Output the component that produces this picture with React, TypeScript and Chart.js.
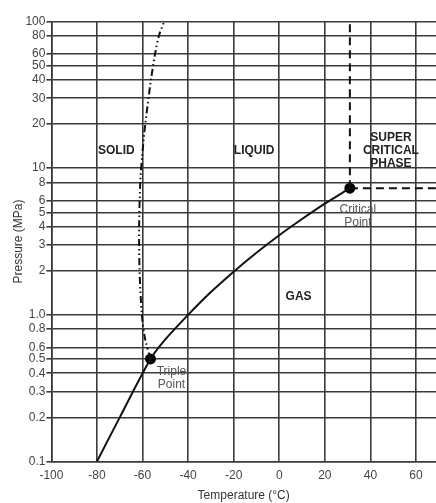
import React, { useEffect, useRef } from 'react';
import { Chart, registerables } from 'chart.js';

Chart.register(...registerables);

// ---- data ----
const xTicks = [-100, -80, -60, -40, -20, 0, 20, 40, 60];
const yTickValues = [0.1, 0.2, 0.3, 0.4, 0.5, 0.6, 0.8, 1, 2, 3, 4, 5, 6, 8, 10, 20, 30, 40, 50, 60, 80, 100];
const yTickLabels = ['0.1', '0.2', '0.3', '0.4', '0.5', '0.6', '0.8', '1.0', '2', '3', '4', '5', '6', '8', '10', '20', '30', '40', '50', '60', '80', '100'];

// sublimation + vaporization curve (solid)
const vaporT = [-80, -70, -56.5, -50, -40, -30, -20, -10, 0, 10, 20, 31];
const vaporP = [0.1, 0.2, 0.5, 0.68, 1.0, 1.43, 1.97, 2.65, 3.49, 4.5, 5.73, 7.3];

// melting curve (dash-dot)
const meltT = [-56.5, -59, -60.3, -61.3, -61.5, -61, -60.2, -58.8, -56.3, -54.5, -52.8, -50.5];
const meltP = [0.5, 0.7, 1.0, 2, 4, 8, 12, 20, 40, 60, 80, 100];

const tripleT = -56.5;
const tripleP = 0.5;
const criticalT = 31;
const criticalP = 7.3;

const criticalVertP = [criticalP, 100];
const criticalHorizT = [criticalT, 68.8];

const regionLabels = [
  { lines: ['SOLID'], t: -71.5, p: 13.2 },
  { lines: ['LIQUID'], t: -11, p: 13.2 },
  { lines: ['SUPER', 'CRITICAL', 'PHASE'], t: 49, p: 13.2 },
  { lines: ['GAS'], t: 8.5, p: 1.33 },
];

const pointLabels = [
  { lines: ['Triple', 'Point'], t: tripleT, p: tripleP, dx: 21, dy: 13 },
  { lines: ['Critical', 'Point'], t: criticalT, p: criticalP, dx: 8, dy: 21 },
];

const FONT = "'Liberation Sans', Arial, Helvetica, sans-serif";
const GRID = '#3a3a3a';

const labelPlugin = {
  id: 'phaseLabels',
  afterDatasetsDraw(chart: any) {
    const { ctx, scales } = chart;
    const xs = scales.x;
    const ys = scales.y;
    ctx.save();
    ctx.textAlign = 'center';
    ctx.textBaseline = 'middle';
    ctx.fillStyle = '#222';
    ctx.font = `bold 12px ${FONT}`;
    regionLabels.forEach((l) => {
      const cx = xs.getPixelForValue(l.t);
      const cy = ys.getPixelForValue(l.p);
      const lh = 13;
      const start = cy - ((l.lines.length - 1) * lh) / 2;
      l.lines.forEach((s, i) => ctx.fillText(s, cx, start + i * lh));
    });
    ctx.fillStyle = '#555';
    ctx.font = `12px ${FONT}`;
    pointLabels.forEach((l) => {
      const cx = xs.getPixelForValue(l.t) + l.dx;
      const cy = ys.getPixelForValue(l.p) + l.dy;
      l.lines.forEach((s, i) => ctx.fillText(s, cx, cy + i * 13));
    });
    ctx.restore();
  },
};

export default function App() {
  const ref = useRef<HTMLCanvasElement | null>(null);

  useEffect(() => {
    if (!ref.current) return;
    const chart = new Chart(ref.current, {
      type: 'scatter',
      data: {
        datasets: [
          {
            data: vaporT.map((t, i) => ({ x: t, y: vaporP[i] })),
            showLine: true,
            borderColor: '#111',
            borderWidth: 2,
            pointRadius: 0,
            tension: 0.3,
          },
          {
            data: meltT.map((t, i) => ({ x: t, y: meltP[i] })),
            showLine: true,
            borderColor: '#111',
            borderWidth: 2,
            borderDash: [7, 3, 1.5, 3, 1.5, 3],
            pointRadius: 0,
            tension: 0.3,
          },
          {
            data: criticalVertP.map((p) => ({ x: criticalT, y: p })),
            showLine: true,
            borderColor: '#111',
            borderWidth: 2,
            borderDash: [8, 5],
            pointRadius: 0,
          },
          {
            data: criticalHorizT.map((t) => ({ x: t, y: criticalP })),
            showLine: true,
            borderColor: '#111',
            borderWidth: 2,
            borderDash: [8, 5],
            pointRadius: 0,
          },
          {
            data: [
              { x: tripleT, y: tripleP },
              { x: criticalT, y: criticalP },
            ],
            showLine: false,
            pointRadius: 5.5,
            pointBackgroundColor: '#000',
            pointBorderColor: '#000',
            borderWidth: 0,
          },
        ],
      },
      options: {
        animation: false,
        responsive: false,
        maintainAspectRatio: false,
        layout: { autoPadding: false, padding: { top: 21.5, right: 0, left: 0, bottom: 0 } },
        plugins: { legend: { display: false }, tooltip: { enabled: false } },
        scales: {
          x: {
            type: 'linear',
            min: -100,
            max: 68.8,
            afterBuildTicks: (s: any) => {
              s.ticks = xTicks.map((v) => ({ value: v }));
            },
            afterFit: (s: any) => {
              s.height = 41.5;
              s.paddingLeft = 0;
              s.paddingRight = 0;
            },
            grid: { color: GRID, lineWidth: 1.6, drawTicks: false },
            border: { color: GRID, width: 1.6 },
            ticks: {
              color: '#444',
              font: { family: FONT, size: 12 },
              padding: 7,
              autoSkip: false,
              maxRotation: 0,
              callback: (v: any) => String(v),
            },
            title: {
              display: true,
              text: 'Temperature (°C)',
              color: '#333',
              font: { family: FONT, size: 12 },
              padding: { top: 0, bottom: 0 },
            },
          },
          y: {
            type: 'logarithmic',
            min: 0.1,
            max: 100,
            afterBuildTicks: (s: any) => {
              s.ticks = yTickValues.map((v) => ({ value: v }));
            },
            afterFit: (s: any) => {
              s.width = 51.4;
              s.paddingTop = 0;
              s.paddingBottom = 0;
            },
            grid: { color: GRID, lineWidth: 1.6, tickLength: 5 },
            border: { color: GRID, width: 1.6 },
            ticks: {
              color: '#444',
              font: { family: FONT, size: 12 },
              padding: 1,
              autoSkip: false,
              callback: (v: any) => {
                const i = yTickValues.findIndex((t) => Math.abs(t - v) < 1e-9);
                return i >= 0 ? yTickLabels[i] : '';
              },
            },
            title: {
              display: true,
              text: 'Pressure (MPa)',
              color: '#333',
              font: { family: FONT, size: 12 },
              padding: { top: 11, bottom: 0 },
            },
          },
        },
      },
      plugins: [labelPlugin],
    });
    return () => chart.destroy();
  }, []);

  return (
    <div style={{ position: 'fixed', left: 0, top: 0, width: 436, height: 503, background: '#fff' }}>
      <canvas ref={ref} width={436} height={503} style={{ display: 'block', width: 436, height: 503 }} />
    </div>
  );
}
